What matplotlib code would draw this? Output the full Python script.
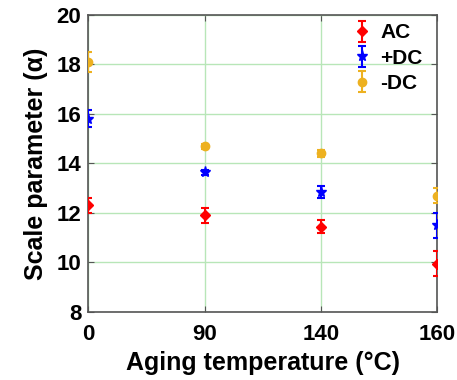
import matplotlib; matplotlib.use("Agg")
import matplotlib.pyplot as plt
import numpy as np

temps = ["0", "90", "140", "160"]
ac = [12.3, 11.9, 11.45, 9.95]
ac_err = [0.3, 0.3, 0.25, 0.5]
pdc = [15.8, 13.65, 12.85, 11.5]
pdc_err = [0.35, 0.1, 0.25, 0.5]
ndc = [18.1, 14.7, 14.4, 12.7]
ndc_err = [0.4, 0.1, 0.15, 0.3]

plt.rcParams["font.family"] = ["Liberation Sans", "DejaVu Sans"]
plt.rcParams["font.weight"] = "bold"

fig = plt.figure(figsize=(4.57, 3.8), dpi=100)
ax = fig.add_axes([0.193, 0.179, 0.764, 0.782])
x = np.arange(len(temps))

ax.errorbar(x, ac, yerr=ac_err, fmt="D", color="red", ms=5, capsize=3,
            elinewidth=1.5, capthick=1.5, label="AC", zorder=3)
ax.errorbar(x, pdc, yerr=pdc_err, fmt="*", color="blue", ms=8, capsize=3,
            elinewidth=1.5, capthick=1.5, label="+DC", zorder=3)
ax.errorbar(x, ndc, yerr=ndc_err, fmt="o", color="#EDB120", ms=6, capsize=3,
            elinewidth=1.5, capthick=1.5, label="-DC", zorder=3)

ax.set_xlim(0, 3)
ax.set_ylim(8, 20)
ax.set_xticks(x)
ax.set_xticklabels(temps)
ax.set_yticks([8, 10, 12, 14, 16, 18, 20])
ax.grid(color="#b8e6b8", lw=1)
ax.tick_params(labelsize=16, direction="in", length=4, color="#555555",
               right=True, top=True)
ax.tick_params(axis="x", pad=9)
ax.tick_params(axis="y", pad=5)
for s in ax.spines.values():
    s.set_color("#555555")
    s.set_linewidth(1.2)
ax.set_xlabel("Aging temperature (°C)", fontsize=18, fontweight="bold", labelpad=4)
ax.set_ylabel("Scale parameter (α)", fontsize=18, fontweight="bold", labelpad=6)
ax.legend(loc="upper right", frameon=False, fontsize=15, handletextpad=0.4,
          labelspacing=0.3, handlelength=1.0, borderaxespad=0.3,
          bbox_to_anchor=(1.0, 1.02))

fig.savefig("out.png", dpi=100)
